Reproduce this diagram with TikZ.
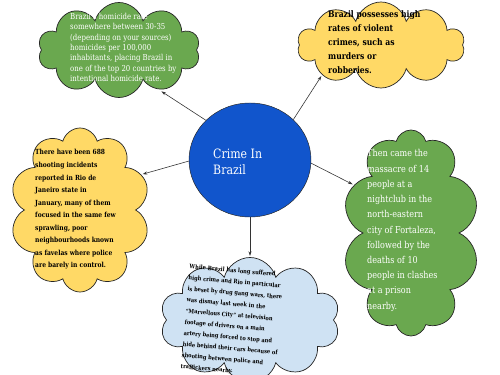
\documentclass[tikz,border=0pt]{standalone}
\usepackage{fontspec}
\setmainfont[FakeStretch=0.85]{DejaVu Serif}
\usetikzlibrary{shapes.symbols,shapes.geometric,arrows.meta}

\definecolor{leafgreen}{HTML}{6AA84F}
\definecolor{sunyellow}{HTML}{FFD966}
\definecolor{hubblue}{HTML}{1155CC}
\definecolor{paleblue}{HTML}{CFE2F3}

\tikzset{
  puff/.style={cloud, cloud puffs=10, cloud ignores aspect, draw=black!85, line width=0.6pt, inner sep=0pt},
  blurb/.style={align=left, inner sep=0pt, anchor=west},
  link/.style={-{Stealth[length=4pt,width=2.6pt]}, draw=black!80, line width=0.5pt, shorten >=1pt},
}

\begin{document}
\begin{tikzpicture}[x=0.03cm, y=-0.03cm]
    \useasboundingbox (0,0) rectangle (500,375);
    \clip (0,0) rectangle (500,375);

    % nube central
    \node[ellipse, draw=black!85, fill=hubblue, minimum width=3.66cm, minimum height=3.42cm] (hub) at (250,160) {};
    \node[blurb, text=white, font=\fontsize{11}{13.7}\selectfont] (title) at (213,162) {Crime In\\Brazil};

    % nubes
    \node[puff, fill=leafgreen, minimum width=4.86cm, minimum height=2.85cm] (tl) at (119,50) {};
    \node[puff, fill=sunyellow, minimum width=5.01cm, minimum height=2.58cm] (tr) at (381,45) {};
    \node[puff, fill=sunyellow, minimum width=4.2cm, minimum height=4.92cm] (lc) at (80,210) {};
    \node[puff, fill=leafgreen, minimum width=4.11cm, minimum height=6.18cm] (rc) at (411,233) {};
    \node[puff, fill=paleblue, minimum width=5.4cm, minimum height=3.75cm] (bc) at (250,320) {};

    % textos
    \node[blurb, text=white, font=\fontsize{7}{8.9}\selectfont] (tlText) at (70,47.5)
        {Brazil's homicide rate\\somewhere between 30-35\\(depending on your sources)\\homicides per 100,000\\inhabitants, placing Brazil in\\one of the top 20 countries by\\intentional homicide rate.};
    \node[blurb, font=\bfseries\fontsize{7.7}{12}\selectfont] (trText) at (328,42)
        {Brazil possesses high\\rates of violent\\crimes, such as\\murders or\\robberies.};
    \node[blurb, font=\bfseries\fontsize{6}{10.7}\selectfont] (lcText) at (35,209.5)
        {There have been 688\\shooting incidents\\reported in Rio de\\Janeiro state in\\January, many of them\\focused in the same few\\sprawling, poor\\neighbourhoods known\\as favelas where police\\are barely in control.};
    \node[blurb, text=white, font=\fontsize{8.1}{13}\selectfont] (rcText) at (367,230.5)
        {Then came the\\massacre of 14\\people at a\\nightclub in the\\north-eastern\\city of Fortaleza,\\followed by the\\deaths of 10\\people in clashes\\at a prison\\nearby.};
    \node[blurb, rotate=-5, font=\bfseries\fontsize{5.1}{9.5}\selectfont] (bcText) at (185,317)
        {While Brazil has long suffered\\high crime and Rio in particular\\is beset by drug gang wars, there\\was dismay last week in the\\``Marvellous City'' at television\\footage of drivers on a main\\artery being forced to stop and\\hide behind their cars because of\\shooting between police and\\traffickers nearby.};

    % flechas
    \draw[link, shorten >=3pt] (hub.138) -- (tl.-45);
    \draw[link] (hub.43)  -- (tr.207);
    \draw[link] (hub.181) -- (lc.30);
    \draw[link] (hub.-3)  -- (rc.140);
    \draw[link] (hub.270) -- (bc.90);
\end{tikzpicture}
\end{document}
